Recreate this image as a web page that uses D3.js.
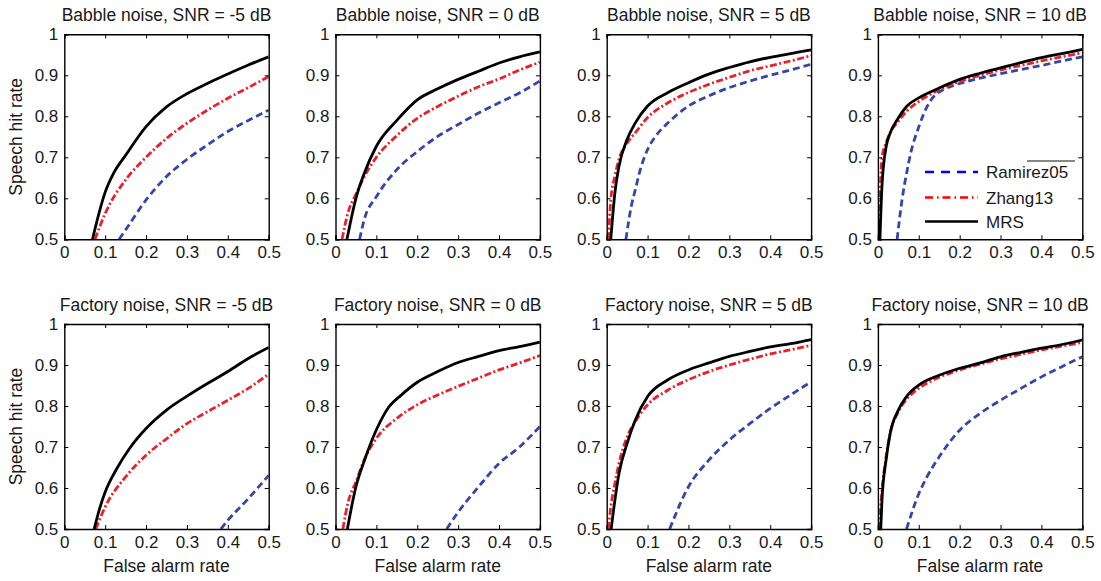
<!DOCTYPE html>
<html>
<head>
<meta charset="utf-8">
<script src="https://cdn.jsdelivr.net/npm/d3@7"></script>
<style>
  body { margin: 0; background: #fff; }
  svg { display: block; }
  text { font-family: "Liberation Sans", Arial, Helvetica, sans-serif; fill: #1a1a1a; }
</style>
</head>
<body>
<svg id="chart" width="1101" height="581"></svg>
<script>
// ---------------- data ----------------
const panelTitles = [
  "Babble noise, SNR = -5 dB", "Babble noise, SNR = 0 dB", "Babble noise, SNR = 5 dB", "Babble noise, SNR = 10 dB",
  "Factory noise, SNR = -5 dB", "Factory noise, SNR = 0 dB", "Factory noise, SNR = 5 dB", "Factory noise, SNR = 10 dB"
];
const seriesNames = ["Ramirez05", "Zhang13", "MRS"];
const xTicks = [0, 0.1, 0.2, 0.3, 0.4, 0.5];
const yTicks = [0.5, 0.6, 0.7, 0.8, 0.9, 1];
const xLabel = "False alarm rate";
const yLabel = "Speech hit rate";

// Babble -5 dB
const babbleM5_ramirez = [[0.134,0.5],[0.15,0.523],[0.2,0.596],[0.25,0.653],[0.3,0.695],[0.35,0.73],[0.4,0.763],[0.45,0.79],[0.5,0.815]];
const babbleM5_zhang   = [[0.075,0.5],[0.1,0.563],[0.15,0.645],[0.2,0.70],[0.25,0.746],[0.3,0.783],[0.35,0.815],[0.4,0.844],[0.45,0.87],[0.5,0.897]];
const babbleM5_mrs     = [[0.069,0.5],[0.08,0.545],[0.1,0.615],[0.12,0.66],[0.15,0.705],[0.2,0.775],[0.25,0.823],[0.3,0.855],[0.35,0.88],[0.4,0.903],[0.45,0.925],[0.5,0.945]];
// Babble 0 dB
const babble0_ramirez = [[0.059,0.5],[0.07,0.547],[0.1,0.604],[0.15,0.67],[0.2,0.714],[0.25,0.751],[0.3,0.78],[0.35,0.808],[0.4,0.833],[0.45,0.857],[0.5,0.886]];
const babble0_zhang   = [[0.016,0.5],[0.03,0.563],[0.05,0.61],[0.07,0.652],[0.1,0.70],[0.15,0.753],[0.2,0.795],[0.25,0.824],[0.3,0.849],[0.35,0.872],[0.4,0.891],[0.45,0.913],[0.5,0.932]];
const babble0_mrs     = [[0.028,0.5],[0.05,0.6],[0.07,0.66],[0.1,0.727],[0.15,0.79],[0.2,0.84],[0.25,0.867],[0.3,0.89],[0.35,0.91],[0.4,0.93],[0.45,0.945],[0.5,0.957]];
// Babble 5 dB
const babble5_ramirez = [[0.047,0.5],[0.06,0.58],[0.07,0.621],[0.08,0.662],[0.1,0.719],[0.12,0.752],[0.15,0.784],[0.2,0.825],[0.25,0.85],[0.3,0.87],[0.35,0.886],[0.4,0.9],[0.45,0.913],[0.5,0.927]];
const babble5_zhang   = [[0.004,0.5],[0.01,0.596],[0.02,0.654],[0.03,0.695],[0.05,0.735],[0.07,0.76],[0.1,0.797],[0.15,0.833],[0.2,0.858],[0.25,0.878],[0.3,0.895],[0.35,0.911],[0.4,0.923],[0.45,0.935],[0.5,0.948]];
const babble5_mrs     = [[0.01,0.5],[0.02,0.613],[0.03,0.678],[0.05,0.744],[0.07,0.784],[0.1,0.825],[0.15,0.858],[0.2,0.882],[0.25,0.903],[0.3,0.919],[0.35,0.933],[0.4,0.944],[0.45,0.953],[0.5,0.962]];
// Babble 10 dB
const babble10_ramirez = [[0.047,0.5],[0.06,0.603],[0.07,0.66],[0.08,0.709],[0.1,0.774],[0.12,0.823],[0.14,0.852],[0.16,0.865],[0.2,0.88],[0.25,0.893],[0.3,0.904],[0.35,0.914],[0.4,0.924],[0.45,0.935],[0.5,0.945]];
const babble10_zhang   = [[0.002,0.5],[0.01,0.70],[0.02,0.735],[0.03,0.76],[0.05,0.788],[0.07,0.812],[0.1,0.836],[0.15,0.865],[0.2,0.885],[0.25,0.9],[0.3,0.913],[0.35,0.924],[0.4,0.935],[0.45,0.945],[0.5,0.955]];
const babble10_mrs     = [[0.005,0.5],[0.01,0.63],[0.02,0.725],[0.03,0.759],[0.05,0.796],[0.07,0.824],[0.1,0.845],[0.15,0.869],[0.2,0.89],[0.25,0.905],[0.3,0.918],[0.35,0.931],[0.4,0.943],[0.45,0.953],[0.5,0.963]];
// Factory -5 dB
const factoryM5_ramirez = [[0.383,0.5],[0.4,0.521],[0.45,0.574],[0.5,0.631]];
const factoryM5_zhang   = [[0.077,0.5],[0.1,0.554],[0.15,0.627],[0.2,0.68],[0.25,0.72],[0.3,0.757],[0.35,0.786],[0.4,0.814],[0.45,0.843],[0.5,0.878]];
const factoryM5_mrs     = [[0.073,0.5],[0.085,0.545],[0.1,0.59],[0.13,0.65],[0.16,0.697],[0.2,0.745],[0.25,0.79],[0.3,0.824],[0.35,0.855],[0.4,0.884],[0.45,0.916],[0.5,0.943]];
// Factory 0 dB
const factory0_ramirez = [[0.272,0.5],[0.3,0.541],[0.35,0.603],[0.4,0.66],[0.45,0.70],[0.5,0.75]];
const factory0_zhang   = [[0.018,0.5],[0.03,0.562],[0.05,0.615],[0.07,0.668],[0.1,0.721],[0.15,0.77],[0.2,0.803],[0.25,0.827],[0.3,0.848],[0.35,0.868],[0.4,0.888],[0.45,0.905],[0.5,0.923]];
const factory0_mrs     = [[0.029,0.5],[0.05,0.603],[0.07,0.665],[0.1,0.742],[0.13,0.797],[0.16,0.826],[0.2,0.858],[0.25,0.884],[0.3,0.906],[0.35,0.921],[0.4,0.935],[0.45,0.945],[0.5,0.956]];
// Factory 5 dB
const factory5_ramirez = [[0.154,0.5],[0.2,0.603],[0.25,0.668],[0.3,0.717],[0.35,0.757],[0.4,0.794],[0.45,0.827],[0.5,0.859]];
const factory5_zhang   = [[0.004,0.5],[0.01,0.554],[0.02,0.611],[0.03,0.66],[0.05,0.725],[0.07,0.762],[0.1,0.803],[0.15,0.839],[0.2,0.864],[0.25,0.884],[0.3,0.9],[0.35,0.914],[0.4,0.927],[0.45,0.937],[0.5,0.948]];
const factory5_mrs     = [[0.011,0.5],[0.02,0.57],[0.03,0.635],[0.05,0.709],[0.07,0.766],[0.1,0.823],[0.15,0.864],[0.2,0.888],[0.25,0.905],[0.3,0.921],[0.35,0.933],[0.4,0.944],[0.45,0.952],[0.5,0.962]];
// Factory 10 dB
const factory10_ramirez = [[0.07,0.5],[0.1,0.586],[0.12,0.627],[0.15,0.676],[0.2,0.741],[0.25,0.782],[0.3,0.814],[0.35,0.843],[0.4,0.871],[0.45,0.896],[0.5,0.92]];
const factory10_zhang   = [[0.003,0.5],[0.01,0.594],[0.02,0.676],[0.03,0.733],[0.05,0.786],[0.07,0.816],[0.1,0.843],[0.15,0.87],[0.2,0.888],[0.25,0.902],[0.3,0.915],[0.35,0.926],[0.4,0.937],[0.45,0.946],[0.5,0.955]];
const factory10_mrs     = [[0.007,0.5],[0.01,0.57],[0.02,0.668],[0.03,0.733],[0.05,0.79],[0.07,0.823],[0.1,0.851],[0.15,0.875],[0.2,0.892],[0.25,0.905],[0.3,0.92],[0.35,0.931],[0.4,0.941],[0.45,0.95],[0.5,0.961]];

const panelData = [
  [babbleM5_ramirez, babbleM5_zhang, babbleM5_mrs],
  [babble0_ramirez, babble0_zhang, babble0_mrs],
  [babble5_ramirez, babble5_zhang, babble5_mrs],
  [babble10_ramirez, babble10_zhang, babble10_mrs],
  [factoryM5_ramirez, factoryM5_zhang, factoryM5_mrs],
  [factory0_ramirez, factory0_zhang, factory0_mrs],
  [factory5_ramirez, factory5_zhang, factory5_mrs],
  [factory10_ramirez, factory10_zhang, factory10_mrs]
];

// ---------------- styles / layout ----------------
const seriesStyle = [
  { color: "#3546a8", dash: "7,4", width: 2.8 },
  { color: "#e8222a", dash: "7,2.5,2,2.5", width: 2.8 },
  { color: "#000000", dash: null, width: 2.8 }
];
const legendStyle = [
  { color: "#0000ff", dash: "9,7", width: 2.4 },
  { color: "#ff0000", dash: "8,4,1.5,4", width: 2.4 },
  { color: "#000000", dash: null, width: 2.4 }
];

const left0 = 64.3, colStep = 271.2, pw = 204.4;
const top0 = 34.3, rowStep = 289.7, ph = 205;
const tickFont = 17, titleFont = 17.5, labelFont = 17.5;

const svg = d3.select("#chart");

panelData.forEach((series, i) => {
  const col = i % 4, row = Math.floor(i / 4);
  const px = left0 + col * colStep, py = top0 + row * rowStep;
  const g = svg.append("g").attr("transform", `translate(${px},${py})`);

  const x = d3.scaleLinear().domain([0, 0.5]).range([0, pw]);
  const y = d3.scaleLinear().domain([0.5, 1]).range([ph, 0]);

  g.append("clipPath").attr("id", "clip" + i)
    .append("rect").attr("width", pw).attr("height", ph);

  // curves
  const line = d3.line().x(d => x(d[0])).y(d => y(d[1])).curve(d3.curveMonotoneX);
  series.forEach((pts, s) => {
    const st = seriesStyle[s];
    g.append("path")
      .attr("clip-path", `url(#clip${i})`)
      .attr("d", line(pts))
      .attr("fill", "none")
      .attr("stroke", st.color)
      .attr("stroke-width", st.width)
      .attr("stroke-dasharray", st.dash)
      .attr("stroke-linejoin", "round");
  });

  // axes (inner ticks on all sides)
  const axB = d3.axisBottom(x).tickValues(xTicks).tickSize(-4).tickPadding(7).tickFormat(d3.format("~g"));
  const axT = d3.axisTop(x).tickValues(xTicks).tickSize(-4).tickFormat("");
  const axL = d3.axisLeft(y).tickValues(yTicks).tickSize(-4).tickPadding(6).tickFormat(d3.format("~g"));
  const axR = d3.axisRight(y).tickValues(yTicks).tickSize(-4).tickFormat("");

  const gb = g.append("g").attr("transform", `translate(0,${ph})`).call(axB);
  const gt = g.append("g").call(axT);
  const gl = g.append("g").call(axL);
  const gr = g.append("g").attr("transform", `translate(${pw},0)`).call(axR);
  [gb, gt, gl, gr].forEach(a => {
    a.select(".domain").attr("stroke", "#000").attr("stroke-width", 1.4);
    a.selectAll(".tick line").attr("stroke", "#000").attr("stroke-width", 1);
    a.selectAll("text").attr("font-size", tickFont).attr("fill", "#1a1a1a")
      .attr("font-family", "'Liberation Sans', Arial, sans-serif");
  });
  gb.selectAll("text").attr("dy", "0.71em");

  // title
  g.append("text").attr("x", pw / 2).attr("y", -13)
    .attr("text-anchor", "middle").attr("font-size", titleFont).text(panelTitles[i]);

  if (col === 0) {
    g.append("text")
      .attr("transform", `translate(${22 - px},${ph / 2}) rotate(-90)`)
      .attr("text-anchor", "middle").attr("font-size", labelFont).text(yLabel);
  }
  if (row === 1) {
    g.append("text").attr("x", pw / 2).attr("y", ph + 43)
      .attr("text-anchor", "middle").attr("font-size", labelFont).text(xLabel);
  }

  // legend in panel 4
  if (i === 3) {
    const lx0 = 925 - px, lx1 = 978 - px;
    const ly = [172 - py, 197.5 - py, 221.5 - py];
    g.append("line").attr("x1", 1027 - px).attr("x2", 1075 - px)
      .attr("y1", 161 - py).attr("y2", 161 - py)
      .attr("stroke", "#111").attr("stroke-width", 1.2);
    seriesNames.forEach((name, s) => {
      const st = legendStyle[s];
      g.append("line").attr("x1", lx0).attr("x2", lx1).attr("y1", ly[s]).attr("y2", ly[s])
        .attr("stroke", st.color).attr("stroke-width", st.width).attr("stroke-dasharray", st.dash);
      g.append("text").attr("x", 986 - px).attr("y", ly[s]).attr("dy", "0.36em")
        .attr("font-size", 17).text(name);
    });
  }
});
</script>
</body>
</html>
